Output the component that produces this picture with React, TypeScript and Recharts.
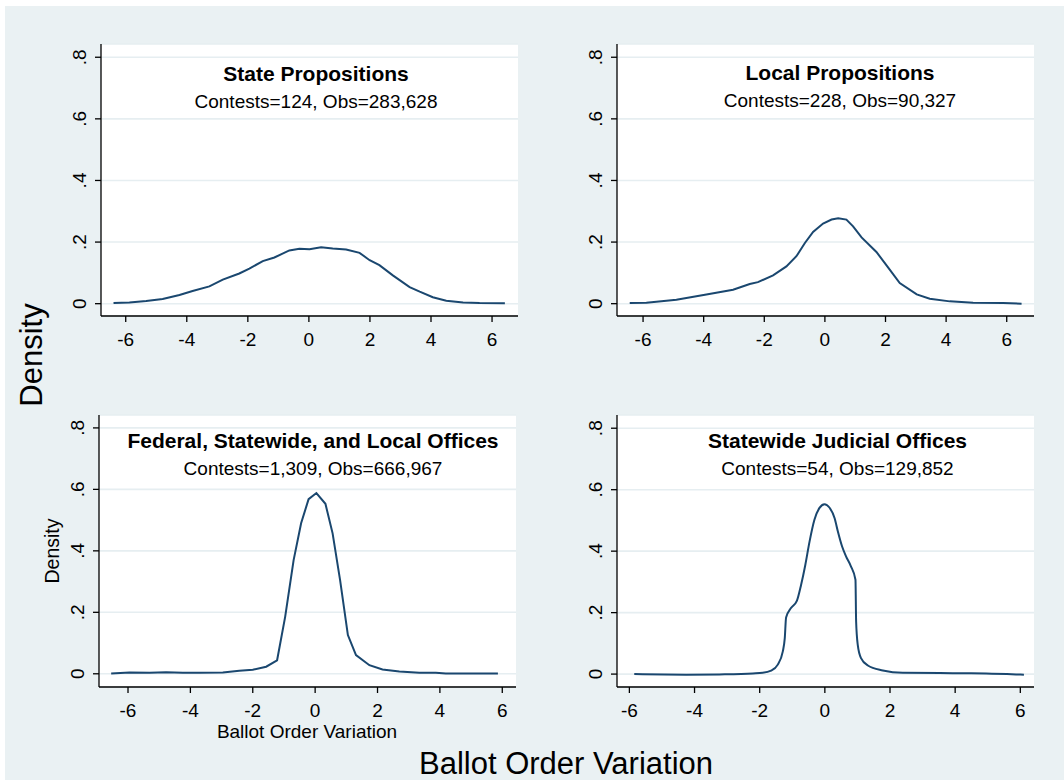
import { LineChart, Line, XAxis, YAxis, CartesianGrid } from 'recharts';

// kernel density curves
const stateX = [-6.4, -5.88, -5.33, -4.79, -4.24, -3.81, -3.26, -2.82, -2.28, -1.95, -1.51, -1.13, -0.64, -0.31, 0.02, 0.4, 0.78, 1.22, 1.66, 1.99, 2.31, 2.75, 3.3, 3.63, 4.06, 4.5, 5.05, 5.59, 6.42];
const stateY = [0.002, 0.004, 0.0085, 0.015, 0.028, 0.041, 0.056, 0.078, 0.098, 0.114, 0.138, 0.15, 0.173, 0.178, 0.177, 0.183, 0.179, 0.176, 0.165, 0.141, 0.125, 0.092, 0.054, 0.039, 0.021, 0.0098, 0.004, 0.002, 0.001];

const localX = [-6.44, -5.89, -4.9, -3.91, -3.03, -2.48, -2.21, -1.71, -1.27, -0.94, -0.66, -0.39, -0.06, 0.22, 0.44, 0.71, 0.93, 1.21, 1.7, 2.09, 2.47, 3.03, 3.46, 4.12, 4.89, 5.88, 6.49];
const localY = [0.002, 0.003, 0.013, 0.03, 0.045, 0.064, 0.07, 0.092, 0.121, 0.154, 0.197, 0.233, 0.26, 0.273, 0.277, 0.273, 0.251, 0.215, 0.168, 0.117, 0.067, 0.03, 0.016, 0.0075, 0.003, 0.002, 0.0];

const federalX = [-6.54, -5.95, -5.31, -4.78, -4.24, -3.71, -2.96, -2.43, -2.0, -1.57, -1.22, -0.96, -0.69, -0.45, -0.21, 0.04, 0.33, 0.56, 0.8, 1.05, 1.31, 1.74, 2.16, 2.7, 3.34, 3.87, 4.19, 5.86];
const federalY = [0.001, 0.004, 0.003, 0.005, 0.003, 0.003, 0.004, 0.01, 0.013, 0.023, 0.044, 0.186, 0.37, 0.49, 0.568, 0.588, 0.553, 0.457, 0.305, 0.126, 0.061, 0.028, 0.014, 0.0075, 0.003, 0.003, 0.001, 0.001];

const judicialX = [-5.85, -4.26, -3.24, -2.21, -1.91, -1.65, -1.45, -1.29, -1.23, -1.19, -1.04, -0.86, -0.73, -0.6, -0.47, -0.32, -0.17, -0.01, 0.14, 0.3, 0.4, 0.53, 0.65, 0.79, 0.94, 0.96, 1.01, 1.11, 1.32, 1.78, 2.39, 3.93, 4.95, 5.87, 6.11];
const judicialY = [0.0, -0.002, -0.001, 0.002, 0.004, 0.011, 0.03, 0.074, 0.117, 0.184, 0.215, 0.238, 0.29, 0.355, 0.431, 0.502, 0.54, 0.553, 0.542, 0.507, 0.464, 0.415, 0.383, 0.353, 0.307, 0.171, 0.095, 0.052, 0.028, 0.012, 0.004, 0.003, 0.002, -0.001, -0.002];

const xTicks = [-6, -4, -2, 0, 2, 4, 6];
const yTicks = [0, 0.2, 0.4, 0.6, 0.8];
const yTickLabels = ['0', '.2', '.4', '.6', '.8'];

const titles = ['State Propositions', 'Local Propositions', 'Federal, Statewide, and Local Offices', 'Statewide Judicial Offices'];
const subtitles = ['Contests=124, Obs=283,628', 'Contests=228, Obs=90,327', 'Contests=1,309, Obs=666,967', 'Contests=54, Obs=129,852'];

const FONT = '"Liberation Sans", Arial, sans-serif';
const BG = '#eaf1f3';
const GRID = '#e6eef1';
const LINE = '#1a476f';

const toRows = (xs: number[], ys: number[]) => xs.map((x, i) => ({ x, y: ys[i] }));

const XTick = (props: any) => {
  const { x, y, payload } = props;
  return (
    <text x={x} y={y + 24} textAnchor="middle" fontSize={19} fontFamily={FONT} fill="#000">
      {payload.value}
    </text>
  );
};

const YTick = (props: any) => {
  const { x, y, payload } = props;
  const idx = yTicks.findIndex((t) => Math.abs(t - payload.value) < 1e-6);
  return (
    <text
      transform={`translate(${x - 9},${y}) rotate(-90)`}
      textAnchor="middle"
      fontSize={19}
      fontFamily={FONT}
      fill="#000"
    >
      {idx >= 0 ? yTickLabels[idx] : payload.value}
    </text>
  );
};

interface PanelProps {
  x0: number;
  x1: number;
  y0: number;
  y1: number;
  xDomain: [number, number];
  yDomain: [number, number];
  data: { x: number; y: number }[];
  curve: 'linear' | 'monotone';
}

function Panel({ x0, x1, y0, y1, xDomain, yDomain, data, curve }: PanelProps) {
  const left = 100;
  const top = 20;
  const right = 10;
  const bottom = 50;
  const w = x1 - x0 + left + right;
  const h = y1 - y0 + top + bottom;
  return (
    <div style={{ position: 'absolute', left: x0 - left, top: y0 - top }}>
      <LineChart width={w} height={h} data={data} margin={{ top, right, bottom: 0, left: 0 }}>
        <CartesianGrid vertical={false} fill="#ffffff" stroke={GRID} strokeWidth={1.6} />
        <XAxis
          type="number"
          dataKey="x"
          domain={xDomain}
          ticks={xTicks}
          allowDataOverflow
          interval={0}
          height={bottom}
          tickSize={6}
          tickMargin={0}
          axisLine={{ stroke: '#000', strokeWidth: 1.3 }}
          tickLine={{ stroke: '#000', strokeWidth: 1.3 }}
          tick={<XTick />}
        />
        <YAxis
          type="number"
          domain={yDomain}
          ticks={yTicks}
          allowDataOverflow
          interval={0}
          width={left}
          tickSize={6}
          tickMargin={0}
          axisLine={{ stroke: '#000', strokeWidth: 1.3 }}
          tickLine={{ stroke: '#000', strokeWidth: 1.3 }}
          tick={<YTick />}
        />
        <Line
          type={curve}
          dataKey="y"
          stroke={LINE}
          strokeWidth={2}
          dot={false}
          activeDot={false}
          isAnimationActive={false}
        />
      </LineChart>
    </div>
  );
}

export default function App() {
  const titlePos = [
    { cx: 316, tb: 81, sb: 108 },
    { cx: 840, tb: 80, sb: 107 },
    { cx: 313, tb: 448, sb: 475 },
    { cx: 837.5, tb: 448, sb: 475 },
  ];
  return (
    <div style={{ position: 'absolute', left: 0, top: 0, width: 1064, height: 780, background: '#fff', overflow: 'hidden' }}>
      <div style={{ position: 'absolute', left: 5, top: 6, width: 1059, height: 774, background: BG }} />
      <Panel x0={101} x1={518} y0={44} y1={316} xDomain={[-6.81, 6.85]} yDomain={[-0.04, 0.843]} data={toRows(stateX, stateY)} curve="linear" />
      <Panel x0={617} x1={1034} y0={44} y1={316} xDomain={[-6.86, 6.9]} yDomain={[-0.04, 0.843]} data={toRows(localX, localY)} curve="linear" />
      <Panel x0={99} x1={516} y0={415} y1={687} xDomain={[-6.93, 6.44]} yDomain={[-0.043, 0.842]} data={toRows(federalX, federalY)} curve="linear" />
      <Panel x0={617} x1={1034} y0={415} y1={687} xDomain={[-6.38, 6.42]} yDomain={[-0.042, 0.843]} data={toRows(judicialX, judicialY)} curve="monotone" />
      <svg width={1064} height={780} style={{ position: 'absolute', left: 0, top: 0, pointerEvents: 'none' }}>
        {titlePos.map((p, i) => (
          <g key={i}>
            <text x={p.cx} y={p.tb} textAnchor="middle" fontFamily={FONT} fontWeight="bold" fontSize={21} fill="#000">
              {titles[i]}
            </text>
            <text x={p.cx} y={p.sb} textAnchor="middle" fontFamily={FONT} fontSize={19} fill="#000">
              {subtitles[i]}
            </text>
          </g>
        ))}
        <text transform="translate(59,551) rotate(-90)" textAnchor="middle" fontFamily={FONT} fontSize={19.5} fill="#000">
          Density
        </text>
        <text x={307} y={738} textAnchor="middle" fontFamily={FONT} fontSize={19} fill="#000">
          Ballot Order Variation
        </text>
        <text transform="translate(42,355) rotate(-90)" textAnchor="middle" fontFamily={FONT} fontSize={31} fill="#000">
          Density
        </text>
        <text x={566} y={774} textAnchor="middle" fontFamily={FONT} fontSize={31} fill="#000">
          Ballot Order Variation
        </text>
      </svg>
    </div>
  );
}
